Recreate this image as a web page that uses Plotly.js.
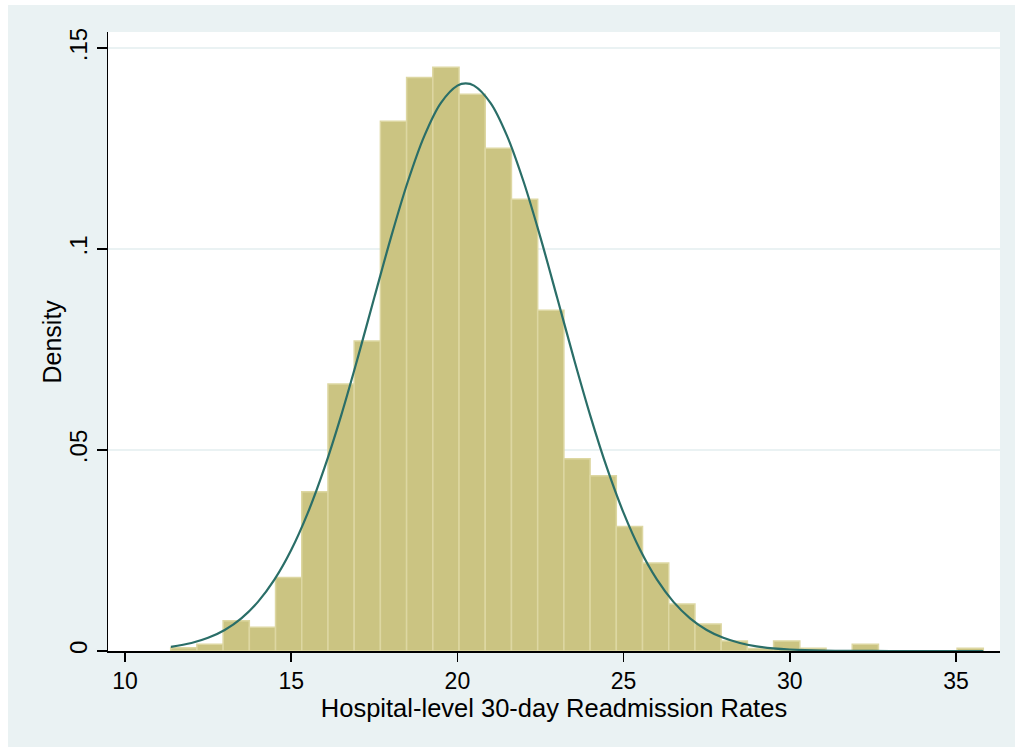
<!DOCTYPE html>
<html>
<head>
<meta charset="utf-8">
<script src="https://cdn.plot.ly/plotly-3.0.1.min.js"></script>
<style>
  html, body { margin: 0; padding: 0; background: #ffffff; }
  #chart { position: absolute; left: 8px; top: 5px; width: 1007px; height: 742px; }
</style>
</head>
<body>
<div id="chart"></div>
<script>
// Histogram bins (density)
const binStart = 11.375;
const binWidth = 0.7886;
const binDensity = [
  0.0008, 0.0017, 0.0075, 0.0059, 0.0183, 0.0396, 0.0664, 0.0771,
  0.1318, 0.1427, 0.1452, 0.1385, 0.1251, 0.1124, 0.0848, 0.0478,
  0.0436, 0.0310, 0.0219, 0.0117, 0.0067, 0.0025, 0.0006, 0.0025,
  0.0007, 0.0000, 0.0017, 0.0000, 0.0000, 0.0000, 0.0007
];

// Normal density overlay
const curveX = [11.38, 12, 12.5, 13, 13.5, 14, 14.5, 15, 15.5, 16, 16.5, 17, 17.5, 18,
  18.5, 19, 19.5, 20, 20.25, 20.5, 21, 21.5, 22, 22.5, 23, 23.5, 24, 24.5, 25, 25.5,
  26, 26.5, 27, 27.5, 28, 28.5, 29, 29.5, 30, 31, 32, 33, 34, 35, 35.82];
const curveY = [0.00102, 0.00199, 0.00328, 0.00524, 0.00813, 0.01222, 0.01780, 0.02511,
  0.03435, 0.04554, 0.05851, 0.07286, 0.08793, 0.10284, 0.11656, 0.12805, 0.13633,
  0.14067, 0.14122, 0.14067, 0.13633, 0.12805, 0.11656, 0.10284, 0.08793, 0.07286,
  0.05851, 0.04554, 0.03435, 0.02511, 0.01780, 0.01222, 0.00813, 0.00524, 0.00328,
  0.00199, 0.00117, 0.00066, 0.00037, 0.00010, 0.00002, 0.000005, 0.0, 0.0, 0.0];

const xTickVals = [10, 15, 20, 25, 30, 35];
const xTickText = ["10", "15", "20", "25", "30", "35"];
const yTickVals = [0, 0.05, 0.1, 0.15];
const yTickText = ["0", ".05", ".1", ".15"];

const xTitle = "Hospital-level 30-day Readmission Rates";
const yTitle = "Density";

const binLeft = binDensity.map((_, i) => binStart + i * binWidth);

const font = "Liberation Sans, Arial, Helvetica, sans-serif";

const traces = [
  {
    type: "bar",
    x: binLeft,
    y: binDensity,
    width: binWidth,
    offset: 0,
    marker: { color: "#CBC482", line: { color: "#DDD7A2", width: 1.5 } },
    hoverinfo: "skip"
  },
  {
    type: "scatter",
    mode: "lines",
    x: curveX,
    y: curveY,
    line: { color: "#2A6E68", width: 2.2, shape: "spline" },
    hoverinfo: "skip"
  }
];

const layout = {
  width: 1007,
  height: 742,
  paper_bgcolor: "#EAF2F3",
  plot_bgcolor: "#FFFFFF",
  margin: { l: 100, r: 15, t: 27, b: 96 },
  showlegend: false,
  bargap: 0,
  font: { family: font, color: "#000000" },
  xaxis: {
    range: [9.489, 36.324],
    tickvals: xTickVals,
    ticktext: xTickText,
    ticks: "outside",
    ticklen: 9,
    tickwidth: 1.5,
    tickcolor: "#000000",
    showline: true,
    linecolor: "#000000",
    linewidth: 1.5,
    showgrid: false,
    zeroline: false,
    tickfont: { family: font, size: 23, color: "#000000" },
    title: { text: xTitle, font: { family: font, size: 25.5, color: "#000000" }, standoff: 4 }
  },
  yaxis: {
    range: [0, 0.154],
    tickvals: yTickVals,
    ticktext: yTickText,
    tickangle: -90,
    ticks: "outside",
    ticklen: 10,
    tickwidth: 1.5,
    tickcolor: "#000000",
    showline: true,
    linecolor: "#000000",
    linewidth: 1.5,
    showgrid: true,
    gridcolor: "#EAF2F3",
    gridwidth: 2,
    zeroline: false,
    tickfont: { family: font, size: 24, color: "#000000" },
    title: { text: "", font: { family: font, size: 25, color: "#000000" } }
  },
  annotations: [
    {
      text: yTitle,
      xref: "paper", yref: "paper",
      x: 0, y: 0.5,
      xanchor: "center", yanchor: "middle",
      xshift: -57,
      textangle: -90,
      showarrow: false,
      font: { family: font, size: 25, color: "#000000" }
    }
  ]
};

Plotly.newPlot("chart", traces, layout, { staticPlot: true, displayModeBar: false });
</script>
</body>
</html>
